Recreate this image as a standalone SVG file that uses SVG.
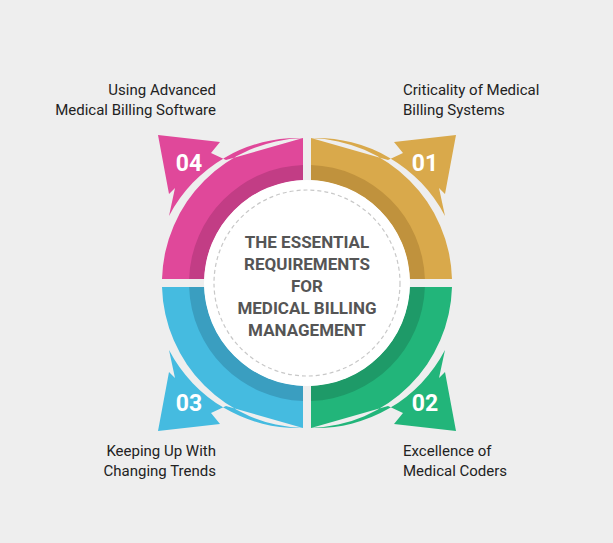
<svg xmlns="http://www.w3.org/2000/svg" xmlns:xlink="http://www.w3.org/1999/xlink" width="613" height="543" viewBox="0 0 613 543">
<style>
.num{font-family:Roboto,"Liberation Sans",sans-serif;font-weight:bold;font-size:23px;fill:#fff;text-anchor:middle}
.lbl{font-family:Roboto,"Liberation Sans",sans-serif;font-size:15px;fill:#222}
.title{font-family:Roboto,"Liberation Sans",sans-serif;font-weight:bold;font-size:17px;fill:#555;text-anchor:middle}
</style>
<defs>
<path id="q" d="M311,138.1 A145,145 0 0 1 445,216 L439,188 L445,194 L456,135 L394,142 L403,153 L388,160 Z M311,138.1 L311,180.1 A103,103 0 0 1 409.9,279 L452,279 A145,145 0 0 0 311,138.1 Z"/>
<path id="d" d="M311,165 L311,180.1 A103,103 0 0 1 409.9,279 L424.9,279 A118,118 0 0 0 311,165 Z"/>
</defs>
<rect width="613" height="543" fill="#eeeeee"/>
<g id="node01"><use xlink:href="#q" fill="#d9a94b"/><use xlink:href="#d" fill="#c0923d"/><text class="num" x="425" y="171">01</text></g>
<g id="node04" ><g transform="translate(614,0) scale(-1,1)"><use xlink:href="#q" fill="#e0489a"/><use xlink:href="#d" fill="#c23d85"/></g><text class="num" x="189" y="171">04</text></g>
<g id="node02"><g transform="translate(0,566) scale(1,-1)"><use xlink:href="#q" fill="#22b57a"/><use xlink:href="#d" fill="#1e9a68"/></g><text class="num" x="425" y="411">02</text></g>
<g id="node03"><g transform="translate(614,566) scale(-1,-1)"><use xlink:href="#q" fill="#45bbe0"/><use xlink:href="#d" fill="#3a9ec0"/></g><text class="num" x="189" y="411">03</text></g>
<g id="center"><circle cx="307" cy="283" r="103" fill="#fff"/><circle cx="307" cy="283" r="93" fill="none" stroke="#c8c8c8" stroke-width="1.2" stroke-dasharray="4 3"/>
<text class="title" x="307" y="248">THE ESSENTIAL</text><text class="title" x="307" y="270">REQUIREMENTS</text><text class="title" x="307" y="292">FOR</text><text class="title" x="307" y="314">MEDICAL BILLING</text><text class="title" x="307" y="336">MANAGEMENT</text></g>
<g id="labels">
<text class="lbl" x="403" y="95">Criticality of Medical</text><text class="lbl" x="403" y="115">Billing Systems</text>
<text class="lbl" x="216" y="95" text-anchor="end">Using Advanced</text><text class="lbl" x="216" y="115" text-anchor="end">Medical Billing Software</text>
<text class="lbl" x="403" y="456">Excellence of</text><text class="lbl" x="403" y="476">Medical Coders</text>
<text class="lbl" x="216" y="456" text-anchor="end">Keeping Up With</text><text class="lbl" x="216" y="476" text-anchor="end">Changing Trends</text>
</g>
<g id="connectors"/>
</svg>
